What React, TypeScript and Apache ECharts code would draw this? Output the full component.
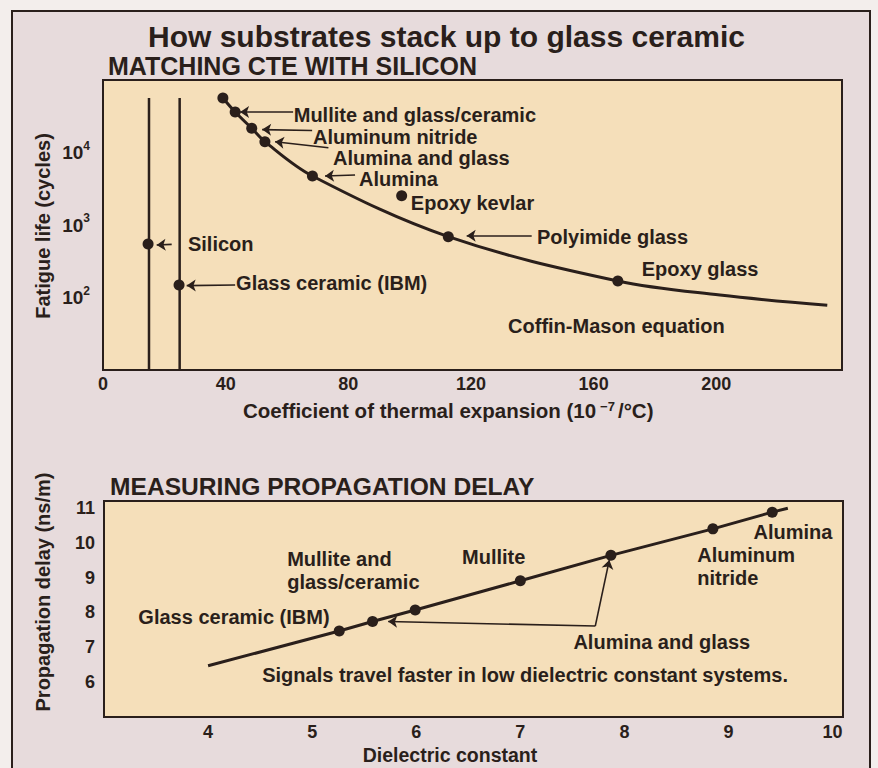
import React, { useEffect, useRef } from "react";
import * as echarts from "echarts";

// ---------- Top chart: CTE vs fatigue life ----------
const curveCTE = [39.1, 43.1, 48.5, 52.8, 68.3, 112.6, 167.9, 201.2, 236.2];
const curveLife = [56500, 36200, 21600, 14100, 4740, 690, 169, 108, 78];
const dotCTE = [39.1, 43.1, 48.5, 52.8, 68.3, 97.4, 112.6, 167.9, 14.7, 24.8];
const dotLife = [56500, 36200, 21600, 14100, 4740, 2540, 690, 169, 547, 149];
const siliconCTE = 15;
const glassCeramicCTE = 25;
const verticalLineTop = 56500;
const lifeMin = 10;
const lifeMax = 100000;
const cteMin = 0;
const cteMax = 241;
const cteInterval = 40;
const cteLabelMax = 200;
const lifeLabels = [100, 1000, 10000];

const cteNotes = [
  { text: "Mullite and glass/ceramic", at: [62.2, 32400] },
  { text: "Aluminum nitride", at: [68.5, 16400] },
  { text: "Alumina and glass", at: [75.0, 8530] },
  { text: "Alumina", at: [83.5, 4300] },
  { text: "Epoxy kevlar", at: [100.4, 2010] },
  { text: "Polyimide glass", at: [141.5, 682] },
  { text: "Epoxy glass", at: [175.7, 247] },
  { text: "Coffin-Mason equation", at: [132.1, 40.8] },
  { text: "Silicon", at: [27.7, 547] },
  { text: "Glass ceramic (IBM)", at: [43.4, 158] },
];
const cteArrows = [
  [[62.0, 36200], [44.7, 36200]],
  [[68.2, 20100], [51.9, 20700]],
  [[73.5, 11600], [56.1, 14100]],
  [[82.2, 4900], [72.4, 4740]],
  [[139.8, 711], [118.6, 711]],
  [[22.4, 540], [17.5, 530]],
  [[43.1, 149], [27.3, 146]],
];

// ---------- Bottom chart: dielectric constant vs propagation delay ----------
const lineDielectric = [4.0, 5.26, 5.58, 5.99, 7.0, 7.87, 8.85, 9.42, 9.57];
const lineDelay = [6.47, 7.47, 7.74, 8.07, 8.91, 9.64, 10.4, 10.88, 10.99];
const dotDielectric = [5.26, 5.58, 5.99, 7.0, 7.87, 8.85, 9.42];
const dotDelay = [7.47, 7.74, 8.07, 8.91, 9.64, 10.4, 10.88];
const dielMin = 3;
const dielMax = 10.1;
const delayMin = 5;
const delayMax = 11.2;

const delayNotes = [
  { text: "Glass ceramic (IBM)", at: [3.33, 7.88] },
  { text: "Mullite and\nglass/ceramic", at: [4.76, 9.2] },
  { text: "Mullite", at: [6.44, 9.58] },
  { text: "Alumina", at: [9.24, 10.32] },
  { text: "Aluminum\nnitride", at: [8.7, 9.33] },
  { text: "Alumina and glass", at: [7.51, 7.16] },
  { text: "Signals travel faster in low dielectric constant systems.", at: [4.52, 6.21] },
];
const delayArrows = [
  [[7.72, 7.61], [5.73, 7.74]],
  [[7.72, 7.61], [7.855, 9.51]],
];

const INK = "#2a1f1b";
const FONT = '"Liberation Sans", Arial, Helvetica, sans-serif';

export default function App() {
  const ref = useRef<HTMLDivElement>(null);
  useEffect(() => {
    document.body.style.margin = "0";
    const chart = echarts.init(ref.current as HTMLDivElement, null, {
      renderer: "svg",
      width: 878,
      height: 768,
    });
    const tickStyle = { color: INK, fontFamily: FONT, fontWeight: "bold" as const, fontSize: 18 };
    const gridCommon = {
      show: true,
      backgroundColor: "#f5dfba",
      borderColor: INK,
      borderWidth: 2,
    };
    const option: any = {
      animation: false,
      backgroundColor: "#f3eeec",
      grid: [
        { ...gridCommon, left: 103, top: 80, width: 739, height: 290 },
        { ...gridCommon, left: 104, top: 501, width: 739, height: 216 },
      ],
      xAxis: [
        {
          gridIndex: 0,
          type: "value",
          min: cteMin,
          max: cteMax,
          interval: cteInterval,
          axisLine: { show: false },
          axisTick: { show: false },
          splitLine: { show: false },
          axisLabel: {
            ...tickStyle,
            margin: 5,
            formatter: (v: number) => (v <= cteLabelMax ? String(v) : ""),
          },
        },
        {
          gridIndex: 1,
          type: "value",
          min: dielMin,
          max: dielMax,
          interval: 1,
          axisLine: { show: false },
          axisTick: { show: false },
          splitLine: { show: false },
          axisLabel: {
            ...tickStyle,
            margin: 6,
            formatter: (v: number) => (v === dielMin ? "" : String(v)),
          },
        },
      ],
      yAxis: [
        {
          gridIndex: 0,
          type: "log",
          logBase: 10,
          min: lifeMin,
          max: lifeMax,
          axisLine: { show: false },
          axisTick: { show: false },
          splitLine: { show: false },
          axisLabel: {
            ...tickStyle,
            fontSize: 19,
            margin: 13,
            formatter: (v: number) => {
              const r = Math.round(v);
              if (lifeLabels.indexOf(r) < 0) return "";
              return "{b|10}{s|" + Math.round(Math.log10(r)) + "}";
            },
            rich: {
              b: { color: INK, fontFamily: FONT, fontWeight: "bold", fontSize: 19, lineHeight: 26 },
              s: { color: INK, fontFamily: FONT, fontWeight: "bold", fontSize: 12, verticalAlign: "top", lineHeight: 13 },
            },
          },
        },
        {
          gridIndex: 1,
          type: "value",
          min: delayMin,
          max: delayMax,
          interval: 1,
          axisLine: { show: false },
          axisTick: { show: false },
          splitLine: { show: false },
          axisLabel: {
            ...tickStyle,
            margin: 9,
            formatter: (v: number) => (v === delayMin ? "" : String(v)),
          },
        },
      ],
      series: [
        {
          type: "line",
          xAxisIndex: 0,
          yAxisIndex: 0,
          data: curveCTE.map((x, i) => [x, curveLife[i]]),
          smooth: 0.35,
          showSymbol: false,
          lineStyle: { color: INK, width: 3 },
          z: 3,
        },
        {
          type: "line",
          xAxisIndex: 0,
          yAxisIndex: 0,
          data: [
            [siliconCTE, lifeMin],
            [siliconCTE, verticalLineTop],
          ],
          showSymbol: false,
          lineStyle: { color: INK, width: 2.5 },
        },
        {
          type: "line",
          xAxisIndex: 0,
          yAxisIndex: 0,
          data: [
            [glassCeramicCTE, lifeMin],
            [glassCeramicCTE, verticalLineTop],
          ],
          showSymbol: false,
          lineStyle: { color: INK, width: 2.5 },
        },
        {
          type: "scatter",
          xAxisIndex: 0,
          yAxisIndex: 0,
          data: dotCTE.map((x, i) => [x, dotLife[i]]),
          symbolSize: 11,
          itemStyle: { color: INK, opacity: 1 },
          z: 5,
        },
        {
          type: "lines",
          coordinateSystem: "cartesian2d",
          xAxisIndex: 0,
          yAxisIndex: 0,
          symbol: ["none", "arrow"],
          symbolSize: 9,
          lineStyle: { color: INK, width: 1.6, opacity: 1 },
          data: cteArrows.map((c) => ({ coords: c })),
          z: 4,
        },
        {
          type: "line",
          xAxisIndex: 1,
          yAxisIndex: 1,
          data: lineDielectric.map((x, i) => [x, lineDelay[i]]),
          showSymbol: false,
          lineStyle: { color: INK, width: 3 },
        },
        {
          type: "scatter",
          xAxisIndex: 1,
          yAxisIndex: 1,
          data: dotDielectric.map((x, i) => [x, dotDelay[i]]),
          symbolSize: 11,
          itemStyle: { color: INK, opacity: 1 },
          z: 5,
        },
        {
          type: "lines",
          coordinateSystem: "cartesian2d",
          xAxisIndex: 1,
          yAxisIndex: 1,
          symbol: ["none", "arrow"],
          symbolSize: 9,
          lineStyle: { color: INK, width: 1.6, opacity: 1 },
          data: delayArrows.map((c) => ({ coords: c })),
          z: 4,
        },
      ],
    };
    chart.setOption(option);

    const textStyle = (extra: any) => ({
      fill: INK,
      fontFamily: FONT,
      fontWeight: "bold",
      ...extra,
    });

    const graphics: any[] = [
      {
        type: "rect",
        shape: { x: 12, y: 11, width: 858, height: 800 },
        style: { fill: "#e7dbdc", stroke: INK, lineWidth: 2 },
        z: -100,
        silent: true,
      },
      {
        type: "text",
        x: 148,
        y: 36,
        style: textStyle({ text: "How substrates stack up to glass ceramic", fontSize: 30, verticalAlign: "middle" }),
        z: 100,
      },
      {
        type: "text",
        x: 108,
        y: 66,
        style: textStyle({ text: "MATCHING CTE WITH SILICON", fontSize: 25, verticalAlign: "middle" }),
        z: 100,
      },
      {
        type: "text",
        x: 110,
        y: 486,
        style: textStyle({ text: "MEASURING PROPAGATION DELAY", fontSize: 24.6, verticalAlign: "middle" }),
        z: 100,
      },
      {
        type: "text",
        x: 43,
        y: 226,
        rotation: Math.PI / 2,
        style: textStyle({ text: "Fatigue life (cycles)", fontSize: 20, align: "center", verticalAlign: "middle" }),
        z: 100,
      },
      {
        type: "text",
        x: 43,
        y: 592,
        rotation: Math.PI / 2,
        style: textStyle({ text: "Propagation delay (ns/m)", fontSize: 20, align: "center", verticalAlign: "middle" }),
        z: 100,
      },
      {
        type: "text",
        x: 243,
        y: 410,
        style: textStyle({
          text: "Coefficient of thermal expansion (10{s|−7}/°C)",
          fontSize: 20.5,
          verticalAlign: "middle",
          rich: {
            s: { fill: INK, fontFamily: FONT, fontWeight: "bold", fontSize: 13, verticalAlign: "top", padding: [0, 3, 0, 4] },
          },
        }),
        z: 100,
      },
      {
        type: "text",
        x: 450,
        y: 755,
        style: textStyle({ text: "Dielectric constant", fontSize: 19.5, align: "center", verticalAlign: "middle" }),
        z: 100,
      },
    ];

    cteNotes.forEach((n) => {
      const p = chart.convertToPixel({ gridIndex: 0 }, n.at) as number[];
      graphics.push({
        type: "text",
        x: p[0],
        y: p[1],
        style: textStyle({ text: n.text, fontSize: 20, verticalAlign: "middle" }),
        z: 100,
      });
    });
    delayNotes.forEach((n) => {
      const p = chart.convertToPixel({ gridIndex: 1 }, n.at) as number[];
      graphics.push({
        type: "text",
        x: p[0],
        y: p[1],
        style: textStyle({ text: n.text, fontSize: 20, lineHeight: 23, verticalAlign: "middle" }),
        z: 100,
      });
    });

    chart.setOption({ graphic: graphics });
    return () => chart.dispose();
  }, []);
  return <div ref={ref} style={{ width: 878, height: 768 }} />;
}
